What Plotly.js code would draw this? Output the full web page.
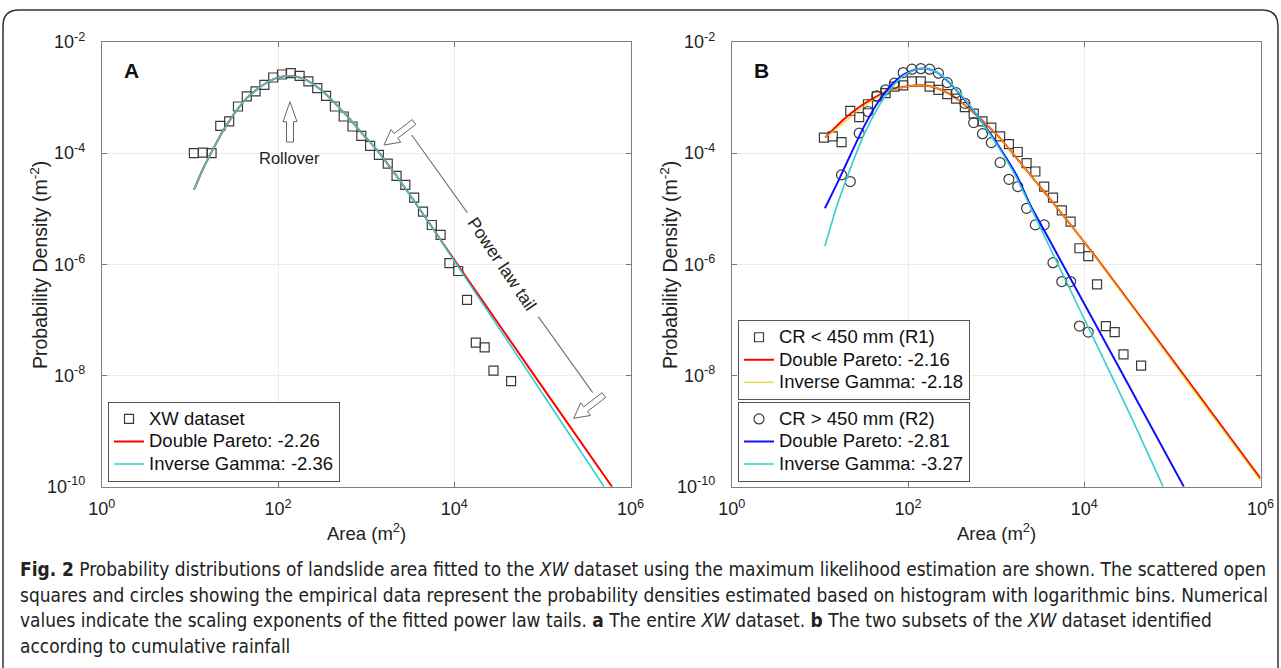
<!DOCTYPE html>
<html><head><meta charset="utf-8">
<script src="https://cdn.plot.ly/plotly-3.0.1.min.js"></script>
<style>html,body{margin:0;padding:0;background:#fff;}#chart{width:1281px;height:668px;}</style>
</head><body><div id="chart"></div>
<script>
// ---------- DATA ----------
// Panel A : XW dataset (log-binned empirical densities)
const areaA = [11.1,14.0,17.6,22.1,27.9,35.1,44.2,55.6,70.0,88.1,110.9,139.6,175.8,221.3,278.6,350.8,441.6,556,700,881,1109,1396,1758,2213,2786,3508,4416,5559,6998,8810,11092,13964,17579,22131,27861,44157];
const densA = [1.0e-4,1.02e-4,1.0e-4,3.09e-4,3.72e-4,6.92e-4,1.05e-3,1.29e-3,1.70e-3,2.3e-3,2.6e-3,2.75e-3,2.45e-3,1.95e-3,1.48e-3,1.07e-3,6.92e-4,4.57e-4,3.02e-4,2.04e-4,1.35e-4,9.3e-5,6.5e-5,3.9e-5,2.7e-5,1.58e-5,8.9e-6,5.1e-6,3.4e-6,1.05e-6,7.6e-7,2.3e-7,3.9e-8,3.2e-8,1.23e-8,7.9e-9];
// Panel A fitted curves
const dpAx = [11.1,14.1,18.4,22.9,28.5,35.5,44.1,55,68.1,85.1,105,137,194,251,300,372,462,575,714,891,1107,1432,1710,2239,3428,5012,8204,17180,79430,616600];
const dpAy = [2.19e-5,5.25e-5,1.20e-4,2.29e-4,3.98e-4,6.46e-4,9.77e-4,1.32e-3,1.70e-3,2.09e-3,2.34e-3,2.45e-3,2.19e-3,1.74e-3,1.41e-3,1.05e-3,7.41e-4,5.13e-4,3.47e-4,2.29e-4,1.58e-4,9.77e-5,6.76e-5,3.80e-5,1.45e-5,6.03e-6,1.91e-6,3.47e-7,1.05e-8,1.0e-10];
const igAx = [11.1,14.1,18.4,22.9,28.5,35.5,44.1,55,68.1,85.1,105,137,194,251,300,372,462,575,714,891,1107,1432,1710,2239,3428,5012,8204,17180,79430,501200];
const igAy = [2.19e-5,5.25e-5,1.20e-4,2.29e-4,3.98e-4,6.46e-4,9.77e-4,1.32e-3,1.70e-3,2.09e-3,2.34e-3,2.45e-3,2.19e-3,1.74e-3,1.41e-3,1.05e-3,7.41e-4,5.13e-4,3.47e-4,2.29e-4,1.58e-4,9.77e-5,6.76e-5,3.80e-5,1.45e-5,6.03e-6,1.85e-6,3.16e-7,8.3e-9,1.0e-10];

// Panel B : R1 (CR < 450 mm) squares
const areaR1 = [11.1,14.0,17.6,22.1,27.9,35.1,44.2,55.6,70.0,88.1,110.9,139.6,175.8,221.3,278.6,350.8,441.6,556,700,881,1109,1396,1758,2213,2786,3508,4416,5559,6998,8810,11092,13964,17579,22131,27861,44157];
const densR1 = [1.91e-4,2.0e-4,1.58e-4,5.75e-4,4.47e-4,7.59e-4,1.05e-3,1.20e-3,1.58e-3,1.66e-3,1.95e-3,1.95e-3,1.58e-3,1.38e-3,1.15e-3,9.55e-4,6.76e-4,5.13e-4,3.72e-4,2.88e-4,2.0e-4,1.45e-4,1.05e-4,6.61e-5,4.68e-5,2.51e-5,1.58e-5,9.33e-6,5.89e-6,1.95e-6,1.41e-6,4.37e-7,7.76e-8,6.03e-8,2.40e-8,1.51e-8];
// Panel B : R2 (CR > 450 mm) circles
const areaR2 = [17.6,22.1,27.9,35.1,44.2,55.6,70.0,88.1,110.9,139.6,175.8,221.3,278.6,350.8,441.6,556,700,881,1109,1396,1758,2213,2786,3508,4416,5559,6998,8810,11092];
const densR2 = [4.07e-5,3.09e-5,2.29e-4,5.62e-4,1.07e-3,1.38e-3,1.82e-3,2.82e-3,3.24e-3,3.31e-3,3.24e-3,2.75e-3,1.86e-3,1.23e-3,7.9e-4,3.55e-4,2.24e-4,1.55e-4,6.76e-5,3.39e-5,2.51e-5,1.02e-5,5.13e-6,5.13e-6,1.07e-6,4.90e-7,4.90e-7,7.76e-8,6.03e-8];
// Panel B fitted curves
const dpR1x = [11.5,18.4,28.5,44.1,68.1,105,137,194,299,462,714,1107,1710,2636,4169,13840,121900,1000000];
const dpR1y = [1.91e-4,3.98e-4,6.92e-4,1.05e-3,1.41e-3,1.62e-3,1.66e-3,1.55e-3,1.15e-3,6.92e-4,3.72e-4,1.86e-4,8.13e-5,3.47e-5,1.45e-5,1.29e-6,1.26e-8,1.41e-10];
const igR1x = [11.5,18.4,28.5,44.1,68.1,105,137,194,299,462,714,1107,1710,2636,4169,13840,121900,1000000];
const igR1y = [1.91e-4,3.47e-4,6.17e-4,1.0e-3,1.38e-3,1.62e-3,1.66e-3,1.55e-3,1.15e-3,6.92e-4,3.72e-4,1.86e-4,8.13e-5,3.47e-5,1.45e-5,1.26e-6,1.17e-8,1.29e-10];
const dpR2x = [11.4,15.5,21.9,31.0,44.1,62.4,88.3,125,163,211,299,424,601,851,1205,1710,2421,3428,5781,13840,33040,134900];
const dpR2y = [1.02e-5,2.75e-5,8.91e-5,2.82e-4,7.59e-4,1.58e-3,2.57e-3,3.24e-3,3.31e-3,2.88e-3,1.82e-3,9.77e-4,4.90e-4,2.29e-4,1.0e-4,3.98e-5,1.20e-5,4.37e-6,9.55e-7,7.59e-8,6.03e-9,1.0e-10];
const igR2x = [11.4,15.5,21.9,31.0,44.1,62.4,88.3,125,163,211,299,424,601,851,1205,1710,2421,3428,5781,13840,33040,78520];
const igR2y = [2.14e-6,1.10e-5,5.01e-5,2.0e-4,6.03e-4,1.38e-3,2.45e-3,3.24e-3,3.31e-3,2.88e-3,1.86e-3,1.0e-3,4.90e-4,2.19e-4,9.33e-5,3.55e-5,1.12e-5,3.55e-6,6.31e-7,3.55e-8,2.0e-9,1.0e-10];

// Axis tick labels
const xTickVals = [1,100,1e4,1e6];
const xTickText = ['10<sup>0</sup>','10<sup>2</sup>','10<sup>4</sup>','10<sup>6</sup>'];
const yTickVals = [1e-10,1e-8,1e-6,1e-4,1e-2];
const yTickText = ['10<sup>-10</sup>','10<sup>-8</sup>','10<sup>-6</sup>','10<sup>-4</sup>','10<sup>-2</sup>'];

// Legend names
const namesA = ['XW dataset','Double Pareto: -2.26','Inverse Gamma: -2.36'];
const namesR1 = ['CR &lt; 450 mm (R1)','Double Pareto: -2.16','Inverse Gamma: -2.18'];
const namesR2 = ['CR &gt; 450 mm (R2)','Double Pareto: -2.81','Inverse Gamma: -3.27'];

// Texts
const captionLines = [
 '<b>Fig. 2</b> Probability distributions of landslide area fitted to the <i>XW</i> dataset using the maximum likelihood estimation are shown. The scattered open',
 'squares and circles showing the empirical data represent the probability densities estimated based on histogram with logarithmic bins. Numerical',
 'values indicate the scaling exponents of the fitted power law tails. <b>a</b> The entire <i>XW</i> dataset. <b>b</b> The two subsets of the <i>XW</i> dataset identified',
 'according to cumulative rainfall'
];

// ---------- LAYOUT ----------
const W = 1281, H = 668;
const FONT = 'Liberation Sans, Arial, Helvetica, sans-serif';
const CAPFONT = 'DejaVu Sans Condensed, Liberation Sans Narrow, sans-serif';
const X = p => p / W;
const Y = p => 1 - p / H;
const P = (x, y) => X(x) + ',' + Y(y);
const big = s => '<span style="font-size:18.5px">' + s + '</span>';

function hollowArrow(tx, ty, sx, sy, headLen, headHalf, shaftHalf) {
  const dx = sx - tx, dy = sy - ty, L = Math.hypot(dx, dy);
  const ux = dx / L, uy = dy / L, nx = -uy, ny = ux;
  const bx = tx + ux * headLen, by = ty + uy * headLen;
  const pts = [
    [sx + nx * shaftHalf, sy + ny * shaftHalf],
    [bx + nx * shaftHalf, by + ny * shaftHalf],
    [bx + nx * headHalf, by + ny * headHalf],
    [tx, ty],
    [bx - nx * headHalf, by - ny * headHalf],
    [bx - nx * shaftHalf, by - ny * shaftHalf],
    [sx - nx * shaftHalf, sy - ny * shaftHalf]
  ];
  return 'M' + pts.map(p => P(p[0], p[1])).join(' L') + ' Z';
}

const domY = [Y(486.7), Y(42)];
function xAxis(dom, anchor) {
  return {type:'log', domain:dom, anchor:anchor, range:[0,6], tickvals:xTickVals, ticktext:xTickText,
    ticks:'inside', ticklen:5, tickcolor:'#777', showline:true, linecolor:'#808080', linewidth:1, mirror:'ticks',
    showgrid:true, gridcolor:'#ebebeb', gridwidth:1, zeroline:false, ticklabelstandoff:6,
    tickfont:{family:FONT, size:18, color:'#222'}, fixedrange:true};
}
function yAxis(anchor) {
  return {type:'log', domain:domY, anchor:anchor, range:[-10,-2], tickvals:yTickVals, ticktext:yTickText,
    ticks:'inside', ticklen:5, tickcolor:'#777', showline:true, linecolor:'#808080', linewidth:1, mirror:'ticks',
    showgrid:true, gridcolor:'#ebebeb', gridwidth:1, zeroline:false, ticklabelstandoff:12,
    tickfont:{family:FONT, size:18, color:'#222'}, fixedrange:true};
}
function legendAt(x, yb) {
  return {x:X(x), y:Y(yb), xanchor:'left', yanchor:'bottom', bgcolor:'#fff', bordercolor:'#555', borderwidth:1,
    font:{family:FONT, size:15, color:'#111'}, tracegroupgap:0, itemwidth:30};
}

const sqMarker = {symbol:'square-open', size:9, color:'#3a3a3a', line:{width:1.2, color:'#3a3a3a'}};
const ciMarker = {symbol:'circle-open', size:10, color:'#3a3a3a', line:{width:1.2, color:'#3a3a3a'}};

const traces = [
  {x:areaA, y:densA, mode:'markers', name:big(namesA[0]), marker:sqMarker, xaxis:'x', yaxis:'y', legend:'legend'},
  {x:dpAx, y:dpAy, mode:'lines', name:big(namesA[1]), line:{color:'#ff0000', width:2, shape:'spline', smoothing:0.6}, xaxis:'x', yaxis:'y', legend:'legend'},
  {x:igAx, y:igAy, mode:'lines', name:big(namesA[2]), line:{color:'#30d0d0', width:1.6, shape:'spline', smoothing:0.6}, xaxis:'x', yaxis:'y', legend:'legend'},

  {x:areaR1, y:densR1, mode:'markers', name:big(namesR1[0]), marker:sqMarker, xaxis:'x2', yaxis:'y2', legend:'legend2'},
  {x:dpR1x, y:dpR1y, mode:'lines', name:big(namesR1[1]), line:{color:'#ff0000', width:2, shape:'spline', smoothing:0.6}, xaxis:'x2', yaxis:'y2', legend:'legend2'},
  {x:igR1x, y:igR1y, mode:'lines', name:big(namesR1[2]), line:{color:'#e0d000', width:1.4, shape:'spline', smoothing:0.6}, opacity:0.75, xaxis:'x2', yaxis:'y2', legend:'legend2'},

  {x:areaR2, y:densR2, mode:'markers', name:big(namesR2[0]), marker:ciMarker, xaxis:'x2', yaxis:'y2', legend:'legend3'},
  {x:dpR2x, y:dpR2y, mode:'lines', name:big(namesR2[1]), line:{color:'#1010ff', width:2, shape:'spline', smoothing:0.6}, xaxis:'x2', yaxis:'y2', legend:'legend3'},
  {x:igR2x, y:igR2y, mode:'lines', name:big(namesR2[2]), line:{color:'#30d0d0', width:1.6, shape:'spline', smoothing:0.6}, xaxis:'x2', yaxis:'y2', legend:'legend3'}
];

const ann = (x, y, text, opts) => Object.assign({xref:'paper', yref:'paper', x:X(x), y:Y(y), text:text,
  showarrow:false, xanchor:'center', yanchor:'middle', font:{family:FONT, size:17, color:'#222'}}, opts || {});

const annotations = [
  ann(131, 70, '<b>A</b>', {font:{family:FONT, size:21, color:'#111'}}),
  ann(761, 70, '<b>B</b>', {font:{family:FONT, size:21, color:'#111'}}),
  ann(289.5, 158, 'Rollover', {font:{family:FONT, size:16.5, color:'#222'}}),
  ann(502, 264, 'Power law tail', {textangle:56, font:{family:FONT, size:17.5, color:'#222'}}),
  ann(39, 265, 'Probability Density (m<sup>-2</sup>)', {textangle:-90, font:{family:FONT, size:19.5, color:'#222'}}),
  ann(669, 265, 'Probability Density (m<sup>-2</sup>)', {textangle:-90, font:{family:FONT, size:19.5, color:'#222'}}),
  ann(366, 532, 'Area (m<sup>2</sup>)', {font:{family:FONT, size:18.5, color:'#222'}}),
  ann(996, 532, 'Area (m<sup>2</sup>)', {font:{family:FONT, size:18.5, color:'#222'}})
];
const capY = [569, 594.5, 620, 645.5];
captionLines.forEach((t, i) => annotations.push(ann(18, capY[i], t, {xanchor:'left', font:{family:CAPFONT, size:18.95, color:'#222'}})));

const shapes = [
  // figure frame
  {type:'path', xref:'paper', yref:'paper', line:{color:'#333', width:1.5},
   path:'M' + P(3, 668) + ' L' + P(3, 26) + ' Q' + P(3, 10) + ' ' + P(19, 10) + ' L' + P(1262, 10) + ' Q' + P(1278, 10) + ' ' + P(1278, 26) + ' L' + P(1278, 668)},
  // rollover hollow arrow
  {type:'path', xref:'paper', yref:'paper', line:{color:'#666', width:1}, fillcolor:'rgba(255,255,255,0)',
   path:hollowArrow(290, 101.7, 290, 142, 20, 7, 3.5)},
  // power law arrows
  {type:'path', xref:'paper', yref:'paper', line:{color:'#666', width:1}, fillcolor:'rgba(255,255,255,0)',
   path:hollowArrow(384, 145, 414, 122, 15, 8, 3)},
  {type:'path', xref:'paper', yref:'paper', line:{color:'#666', width:1}, fillcolor:'rgba(255,255,255,0)',
   path:hollowArrow(573.7, 418.3, 604, 395, 15, 8, 3)},
  {type:'line', xref:'paper', yref:'paper', x0:X(411.7), y0:Y(135), x1:X(467.3), y1:Y(212.7), line:{color:'#777', width:1.2}},
  {type:'line', xref:'paper', yref:'paper', x0:X(538.3), y0:Y(316.7), x1:X(592.7), y1:Y(392.7), line:{color:'#777', width:1.2}}
];

const layout = {
  width:W, height:H, margin:{l:0, r:0, t:0, b:0}, paper_bgcolor:'#fff', plot_bgcolor:'#fff',
  showlegend:true, hovermode:false,
  xaxis:xAxis([X(101.8), X(630.5)], 'y'), yaxis:yAxis('x'),
  xaxis2:xAxis([X(731.8), X(1260.5)], 'y2'), yaxis2:yAxis('x2'),
  legend:legendAt(108, 481.7), legend2:legendAt(738, 400), legend3:legendAt(738, 481.7),
  annotations:annotations, shapes:shapes
};

Plotly.newPlot('chart', traces, layout, {displayModeBar:false, staticPlot:true});
</script></body></html>
